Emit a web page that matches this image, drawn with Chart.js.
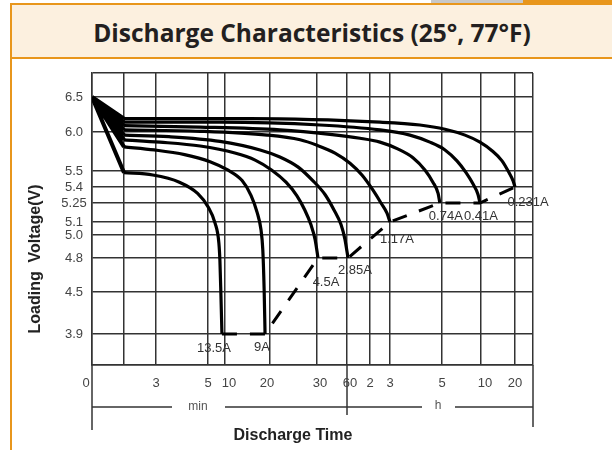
<!DOCTYPE html>
<html>
<head>
<meta charset="utf-8">
<script src="https://cdn.jsdelivr.net/npm/chart.js@4.4.1/dist/chart.umd.min.js"></script>
<style>
  html, body { margin: 0; padding: 0; background: #fff; }
  #wrap { position: relative; width: 612px; height: 450px; overflow: hidden; }
  .tabGray { position: absolute; left: 431px; top: 0; width: 92px; height: 3px; background: #c8c8c8; }
  .tabOrange { position: absolute; left: 523px; top: 0; width: 89px; height: 5px; background: #e8961c; }
  #titleBar {
    position: absolute; left: 10px; top: 3px; width: 602px; height: 56px; box-sizing: border-box;
    background: #fcf0df; border-top: 2px solid #e8961c; border-left: 2px solid #e8961c; border-bottom: 2px solid #e8961c;
    font-family: "Open Sans", sans-serif; font-weight: 700; font-size: 24.5px; color: #231f20;
    text-align: center; line-height: 55px;
  }
  .leftLine { position: absolute; left: 10px; top: 59px; width: 2px; height: 391px; background: #e8961c; }
  canvas { position: absolute; left: 0; top: 0; }
</style>
</head>
<body>
<div id="wrap">
  <div class="tabGray"></div>
  <div class="tabOrange"></div>
  <div id="titleBar">Discharge Characteristics (25°, 77°F)</div>
  <div class="leftLine"></div>
  <canvas id="myChart" width="612" height="450"></canvas>
</div>
<script>
// axis breaks (the printed scales are not linear)
const timeKnots = [0, 1, 3, 5, 10, 20, 30, 60, 120, 180, 300, 600, 1200, 1800];
const timeKnotPos = [0, 32, 64, 116, 133, 178, 225, 255, 278, 298, 350, 389, 423, 441];
const voltKnots = [3.5, 3.9, 4.5, 4.8, 5.0, 5.1, 5.25, 5.4, 5.5, 6.0, 6.5, 6.85];
const voltKnotPos = [0, 31, 73, 107, 130, 143, 162, 178, 194, 233, 268, 292];

// ticks
const timeGrid = [0, 1, 3, 5, 10, 20, 30, 60, 120, 180, 300, 600, 1200, 1800];
const timeTicks = [0, 3, 5, 10, 20, 30, 60, 120, 180, 300, 600, 1200];
const timeTickLabels = ["0", "3", "5", "10", "20", "30", "60", "2", "3", "5", "10", "20"];
const timeLabelNudge = [-6, 0, 0, 4, -3, 3, 3, 0, 0, 0, 4, 0];
const voltGrid = [3.5, 3.9, 4.5, 4.8, 5.0, 5.1, 5.25, 5.4, 5.5, 6.0, 6.5, 6.85];
const voltTicks = [6.5, 6.0, 5.5, 5.4, 5.25, 5.1, 5.0, 4.8, 4.5, 3.9];
const voltTickLabels = ["6.5", "6.0", "5.5", "5.4", "5.25", "5.1", "5.0", "4.8", "4.5", "3.9"];

// curves: time in minutes, voltage in V
const currents = ["13.5A", "9A", "4.5A", "2.85A", "1.17A", "0.74A", "0.41A", "0.231A"];
const time135 = [0, 1, 2.8, 3.9, 4.6, 5, 7.1, 8.2, 8.5, 8.8, 9.1];
const volt135 = [6.5, 5.49, 5.475, 5.43, 5.34, 5.22, 5.09, 4.93, 4.78, 4.46, 3.9];
const time9 = [0, 1, 2.9, 4.1, 5.6, 10.7, 13.8, 15.8, 17.1, 18.0, 18.4, 18.7, 18.9];
const volt9 = [6.5, 5.81, 5.77, 5.71, 5.62, 5.51, 5.44, 5.32, 5.18, 5.04, 4.87, 4.52, 3.9];
const time45 = [0, 1, 3.15, 4.7, 12.2, 16.7, 20.4, 23.4, 25.7, 27.4, 28.7, 29.6, 31];
const volt45 = [6.5, 5.9, 5.87, 5.82, 5.73, 5.64, 5.51, 5.43, 5.32, 5.195, 5.08, 4.96, 4.8];
const time285 = [0, 1, 3.5, 8.5, 17.8, 22.1, 26, 29.1, 38, 47, 54, 58, 62.6];
const volt285 = [6.5, 5.96, 5.94, 5.88, 5.77, 5.68, 5.55, 5.44, 5.33, 5.195, 5.08, 4.96, 4.8];
const time117 = [0, 1, 4.7, 19.4, 26.4, 30, 48, 67.8, 99, 129, 153, 171, 180];
const volt117 = [6.5, 6.03, 6.01, 5.96, 5.9, 5.83, 5.73, 5.6, 5.475, 5.37, 5.25, 5.17, 5.1];
const time074 = [0, 1, 4.7, 22.1, 43, 94, 150, 199, 233, 261, 279, 291, 295];
const volt074 = [6.5, 6.09, 6.07, 6.03, 5.97, 5.92, 5.87, 5.78, 5.67, 5.51, 5.43, 5.34, 5.25];
const time041 = [0, 1, 8.5, 33, 150, 226, 272, 323, 415, 485, 538, 577, 592];
const volt041 = [6.5, 6.14, 6.14, 6.1, 6.03, 5.96, 5.87, 5.77, 5.63, 5.49, 5.42, 5.33, 5.25];
const time0231 = [0, 1, 15.6, 150, 249, 323, 477, 592, 794, 971, 1094, 1165, 1200];
const volt0231 = [6.5, 6.19, 6.19, 6.14, 6.1, 6.04, 5.96, 5.87, 5.76, 5.63, 5.49, 5.44, 5.4];

const curveTimes = [time135, time9, time45, time285, time117, time074, time041, time0231];
const curveVolts = [volt135, volt9, volt45, volt285, volt117, volt074, volt041, volt0231];
const labelOffsets = [[-8, 14], [-3, 13], [8, 24], [7, 12], [7, 17], [6, 13], [1, 13], [13, 15]];

const interp = (v, xs, ys) => {
  for (let i = 1; i < xs.length; i++) {
    if (v <= xs[i]) {
      return ys[i - 1] + (v - xs[i - 1]) / (xs[i] - xs[i - 1]) * (ys[i] - ys[i - 1]);
    }
  }
  return ys[ys.length - 1];
};
const tpos = (t) => interp(t, timeKnots, timeKnotPos);
const vpos = (v) => interp(v, voltKnots, voltKnotPos);
const pt = (t, v) => ({ x: tpos(t), y: vpos(v) });

const datasets = [];
// initial voltage drop, straight lines fanning out of 6.5V
const fan = [];
curveTimes.forEach((ts, i) => {
  fan.push(pt(ts[0], curveVolts[i][0]), pt(ts[1], curveVolts[i][1]));
});
datasets.push({ data: fan, borderColor: "#000", borderWidth: 4, tension: 0, pointRadius: 0 });
// discharge curves
curveTimes.forEach((ts, i) => {
  datasets.push({
    data: ts.slice(1).map((t, j) => pt(t, curveVolts[i][j + 1])),
    borderColor: "#000", borderWidth: 3.2, cubicInterpolationMode: "monotone", pointRadius: 0
  });
});
// cut-off line through curve ends
datasets.push({
  data: curveTimes.map((ts, i) => pt(ts[ts.length - 1], curveVolts[i][curveVolts[i].length - 1])),
  borderColor: "#000", borderWidth: 3, borderDash: [15, 13], tension: 0, pointRadius: 0
});

const line = (ctx, x1, y1, x2, y2) => {
  ctx.beginPath(); ctx.moveTo(x1, y1); ctx.lineTo(x2, y2); ctx.stroke();
};

const textPlugin = {
  id: "texts",
  afterDraw(chart) {
    const ctx = chart.ctx;
    const xs = chart.scales.x, ys = chart.scales.y;
    const { left, right, bottom } = chart.chartArea;
    ctx.save();
    // axis extensions and min / h bracket
    ctx.strokeStyle = "#333"; ctx.lineWidth = 1.5;
    line(ctx, left, bottom, left, bottom + 65);
    line(ctx, right, bottom, right, bottom + 62);
    const x60 = xs.getPixelForValue(tpos(60));
    line(ctx, x60, bottom, x60, bottom + 50);
    const yb = bottom + 42;
    line(ctx, left, yb, left + 80, yb);
    line(ctx, left + 133, yb, left + 330, yb);
    line(ctx, left + 363, yb, right, yb);
    ctx.font = "12px 'Liberation Sans', Arial, sans-serif";
    ctx.fillStyle = "#555"; ctx.textAlign = "center"; ctx.textBaseline = "middle";
    ctx.fillText("min", left + 106, yb);
    ctx.fillText("h", left + 346, yb - 1);
    // tick labels
    ctx.font = "13px 'Liberation Sans', Arial, sans-serif";
    ctx.fillStyle = "#444";
    voltTicks.forEach((v, i) => {
      ctx.fillText(voltTickLabels[i], 74, ys.getPixelForValue(vpos(v)));
    });
    timeTicks.forEach((t, i) => {
      ctx.fillText(timeTickLabels[i], xs.getPixelForValue(tpos(t)) + timeLabelNudge[i], bottom + 18);
    });
    // curve labels
    ctx.fillStyle = "#333";
    curveTimes.forEach((ts, i) => {
      const vs = curveVolts[i];
      const x = xs.getPixelForValue(tpos(ts[ts.length - 1]));
      const y = ys.getPixelForValue(vpos(vs[vs.length - 1]));
      ctx.fillText(currents[i], x + labelOffsets[i][0], y + labelOffsets[i][1]);
    });
    // axis titles
    ctx.fillStyle = "#222";
    ctx.font = "bold 16px 'Liberation Sans', Arial, sans-serif";
    ctx.fillText("Discharge Time", 293, bottom + 71);
    ctx.translate(36, 259);
    ctx.rotate(-Math.PI / 2);
    ctx.fillText("Loading  Voltage(V)", 0, 0);
    ctx.restore();
  }
};

new Chart(document.getElementById("myChart"), {
  type: "line",
  data: { datasets: datasets },
  options: {
    responsive: false,
    animation: false,
    layout: { padding: { left: 92, top: 73, right: 79, bottom: 85 } },
    plugins: { legend: { display: false }, tooltip: { enabled: false } },
    scales: {
      x: {
        type: "linear", min: tpos(timeGrid[0]), max: tpos(timeGrid[timeGrid.length - 1]),
        ticks: { display: false },
        grid: { color: "#333", lineWidth: 1.5, drawTicks: false },
        border: { color: "#333", width: 1.5 },
        afterBuildTicks: (s) => { s.ticks = timeGrid.map((t) => ({ value: tpos(t) })); },
        afterFit: (s) => { s.height = 0; }
      },
      y: {
        type: "linear", min: vpos(voltGrid[0]), max: vpos(voltGrid[voltGrid.length - 1]),
        ticks: { display: false },
        grid: { color: "#333", lineWidth: 1.5, drawTicks: false },
        border: { color: "#333", width: 1.5 },
        afterBuildTicks: (s) => { s.ticks = voltGrid.map((v) => ({ value: vpos(v) })); },
        afterFit: (s) => { s.width = 0; }
      }
    }
  },
  plugins: [textPlugin]
});
</script>
</body>
</html>
